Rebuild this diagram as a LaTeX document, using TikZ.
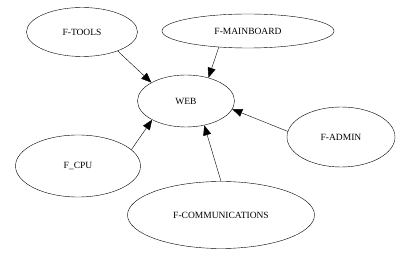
\documentclass[tikz,border=0pt]{standalone}
\usepackage{fontspec}
\setmainfont{Liberation Serif}
\usepackage{tikz}
\usetikzlibrary{positioning, shapes.geometric, arrows.meta}
\tikzstyle{oval} = [ellipse, draw=black, inner sep=0pt, font=\fontsize{9.5}{11}\selectfont]
\tikzstyle{arrow} = [-{Triangle[length=10pt,width=8pt]}]

\begin{document}
\begin{tikzpicture}[x=1pt, y=1pt]
	\useasboundingbox (0,0) rectangle (408,254);
	
	\node [oval, minimum width=97pt, minimum height=52pt] (web) at (186,153) {WEB};
	
	\node [oval, minimum width=111pt, minimum height=49pt] (tools) at (82,222) {F-TOOLS};
	\node [oval, minimum width=172pt, minimum height=34pt] (mainboard) at (248,223) {F-MAINBOARD};
	\node [oval, minimum width=108pt, minimum height=60pt] (admin) at (341,117) {F-ADMIN};
	\node [oval, minimum width=125pt, minimum height=62pt] (cpu) at (78,88) {F\_CPU};
	\node [oval, minimum width=187pt, minimum height=67pt] (comm) at (221,39) {F-COMMUNICATIONS};
	
	\draw[arrow] (tools.-28) -- (web.152);
	\draw[arrow] (mainboard.209) -- (web.46);
	\draw[arrow] (admin.174) -- (web.-10);
	\draw[arrow] (cpu.17) -- (web.209);
	\draw[arrow] (comm.north) -- (web.-53);
	
\end{tikzpicture}
\end{document}
